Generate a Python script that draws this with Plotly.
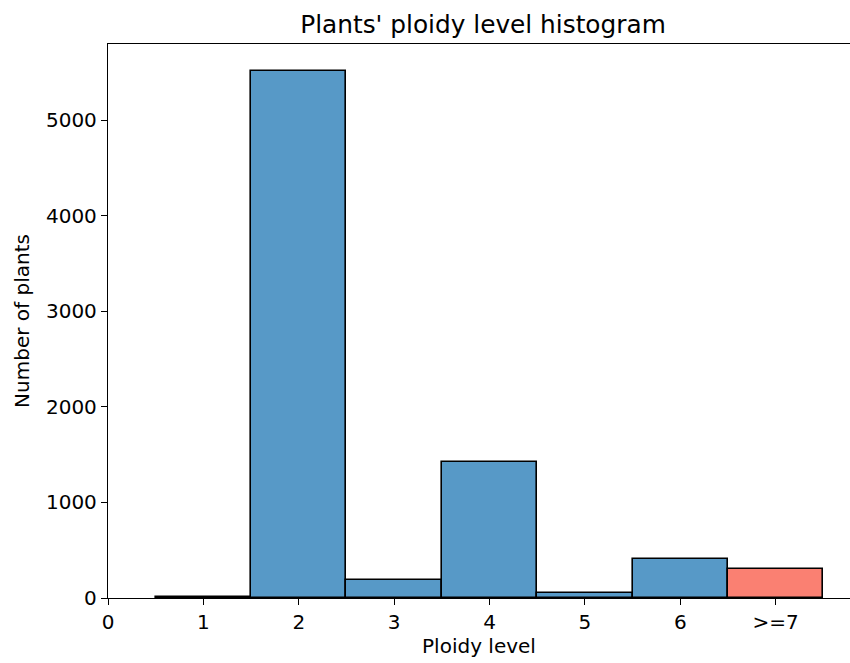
import plotly.graph_objects as go

ploidy = [1, 2, 3, 4, 5, 6, 7]
tick_vals = [0, 1, 2, 3, 4, 5, 6, 7]
tick_text = ["0", "1", "2", "3", "4", "5", "6", ">=7"]
counts = [12, 5520, 192, 1419, 50, 412, 304]
colors = ["#5799c7"] * 6 + ["#fa8072"]

fig = go.Figure(go.Bar(
    x=ploidy, y=counts, width=1,
    marker=dict(color=colors, line=dict(color="black", width=1.6)),
))

font = "DejaVu Sans"
fig.update_layout(
    width=850, height=663,
    margin=dict(l=108, r=0, t=44, b=65),
    plot_bgcolor="white", paper_bgcolor="white",
    font=dict(family=font, color="black", size=20),
    title=dict(text="Plants' ploidy level histogram", x=483/850, xanchor="center",
               y=1-24/663, yanchor="middle", font=dict(size=24.8)),
    showlegend=False,
    bargap=0,
)
fig.update_xaxes(
    range=[0, 7.78], tickvals=tick_vals, ticktext=tick_text,
    showline=True, linecolor="black", linewidth=1.3, mirror=True,
    ticks="outside", ticklen=6, tickcolor="black", tickwidth=1.3,
    showgrid=False, zeroline=False,
    title=dict(text="Ploidy level", standoff=4, font=dict(size=20)),
)
fig.update_yaxes(
    range=[0, 5798], tickvals=[0, 1000, 2000, 3000, 4000, 5000],
    showline=True, linecolor="black", linewidth=1.3,
    ticks="outside", ticklen=6, tickcolor="black", tickwidth=1.3,
    showgrid=False, zeroline=False,
    title=dict(text="Number of plants", standoff=10, font=dict(size=20)),
)
fig.write_html(
    "out.html",
    config={"displayModeBar": False},
    post_script="document.body.style.margin='0';document.body.style.overflow='hidden';",
)
